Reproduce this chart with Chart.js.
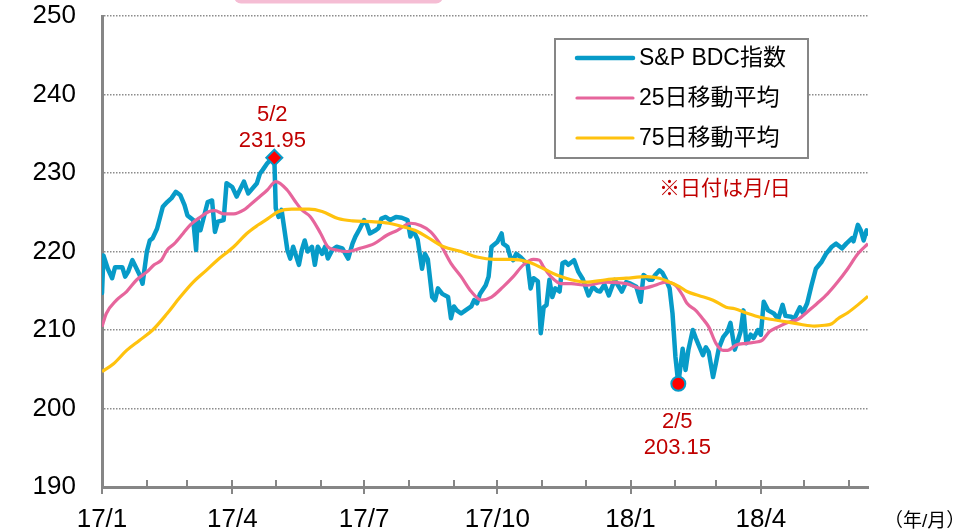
<!DOCTYPE html>
<html lang="ja">
<head>
<meta charset="utf-8">
<title>S&amp;P BDC指数</title>
<script src="https://cdn.jsdelivr.net/npm/chart.js@4.4.1/dist/chart.umd.min.js"></script>
<style>
    html, body { margin: 0; padding: 0; background: #ffffff; }
    #wrap { position: relative; width: 975px; height: 532px; }
</style>
</head>
<body>
<div id="wrap"><canvas id="bdc-chart" width="975" height="532"></canvas></div>
<script>
// S&P BDC index, daily closes (sampled)
const bdcDates = [
    "2017-01-03", "2017-01-04", "2017-01-07", "2017-01-10", "2017-01-12", "2017-01-17", "2017-01-19", "2017-01-21",
    "2017-01-24", "2017-01-29", "2017-01-31", "2017-02-03", "2017-02-05", "2017-02-07", "2017-02-10", "2017-02-14",
    "2017-02-17", "2017-02-20", "2017-02-23", "2017-02-26", "2017-03-01", "2017-03-03", "2017-03-07", "2017-03-09",
    "2017-03-10", "2017-03-12", "2017-03-17", "2017-03-20", "2017-03-22", "2017-03-24", "2017-03-28", "2017-03-30",
    "2017-04-03", "2017-04-06", "2017-04-11", "2017-04-14", "2017-04-20", "2017-04-22", "2017-04-24", "2017-04-27",
    "2017-04-29", "2017-05-02", "2017-05-03", "2017-05-05", "2017-05-07", "2017-05-11", "2017-05-13", "2017-05-15",
    "2017-05-19", "2017-05-21", "2017-05-23", "2017-05-25", "2017-05-28", "2017-05-30", "2017-06-01", "2017-06-04",
    "2017-06-06", "2017-06-08", "2017-06-11", "2017-06-14", "2017-06-18", "2017-06-22", "2017-06-25", "2017-06-27",
    "2017-06-30", "2017-07-03", "2017-07-05", "2017-07-07", "2017-07-11", "2017-07-13", "2017-07-15", "2017-07-18",
    "2017-07-21", "2017-07-25", "2017-07-29", "2017-08-02", "2017-08-04", "2017-08-05", "2017-08-07", "2017-08-09",
    "2017-08-12", "2017-08-14", "2017-08-16", "2017-08-19", "2017-08-21", "2017-08-23", "2017-08-26", "2017-08-30",
    "2017-09-01", "2017-09-03", "2017-09-05", "2017-09-08", "2017-09-11", "2017-09-15", "2017-09-17", "2017-09-19",
    "2017-09-21", "2017-09-25", "2017-09-27", "2017-09-29", "2017-10-03", "2017-10-06", "2017-10-07", "2017-10-10",
    "2017-10-12", "2017-10-14", "2017-10-16", "2017-10-19", "2017-10-21", "2017-10-24", "2017-10-26", "2017-10-28",
    "2017-10-31", "2017-11-02", "2017-11-04", "2017-11-06", "2017-11-08", "2017-11-10", "2017-11-12", "2017-11-15",
    "2017-11-17", "2017-11-19", "2017-11-21", "2017-11-25", "2017-11-28", "2017-12-01", "2017-12-05", "2017-12-08",
    "2017-12-11", "2017-12-13", "2017-12-16", "2017-12-19", "2017-12-23", "2017-12-25", "2017-12-28", "2017-12-31",
    "2018-01-03", "2018-01-07", "2018-01-10", "2018-01-12", "2018-01-16", "2018-01-18", "2018-01-20", "2018-01-23",
    "2018-01-25", "2018-01-27", "2018-01-30", "2018-02-01", "2018-02-03", "2018-02-05", "2018-02-08", "2018-02-10",
    "2018-02-12", "2018-02-15", "2018-02-17", "2018-02-19", "2018-02-22", "2018-02-24", "2018-02-26", "2018-03-01",
    "2018-03-03", "2018-03-05", "2018-03-08", "2018-03-11", "2018-03-13", "2018-03-16", "2018-03-18", "2018-03-20",
    "2018-03-22", "2018-03-24", "2018-03-27", "2018-03-29", "2018-04-01", "2018-04-03", "2018-04-05", "2018-04-08",
    "2018-04-12", "2018-04-15", "2018-04-18", "2018-04-20", "2018-04-24", "2018-04-26", "2018-04-30", "2018-05-02",
    "2018-05-05", "2018-05-08", "2018-05-11", "2018-05-15", "2018-05-18", "2018-05-22", "2018-05-25", "2018-05-29",
    "2018-06-01", "2018-06-05", "2018-06-06", "2018-06-09", "2018-06-11", "2018-06-13", "2018-06-15", "2018-06-16"
];
const bdcValues = [
    214.7, 219.5, 217.8, 216.6, 218.0, 218.0, 216.8, 217.4,
    218.9, 217.0, 215.9, 220.0, 221.4, 221.7, 222.9, 225.7,
    226.3, 226.8, 227.6, 227.2, 225.9, 224.6, 224.0, 220.2,
    224.0, 222.7, 226.3, 226.5, 222.5, 223.8, 224.0, 228.7,
    228.2, 227.0, 228.9, 227.4, 228.7, 229.9, 230.4, 231.2,
    231.6, 231.95, 225.5, 224.4, 225.3, 220.2, 219.1, 220.6,
    218.3, 220.2, 221.4, 220.0, 220.6, 218.3, 220.6, 219.7,
    220.6, 219.1, 220.2, 220.6, 220.4, 219.1, 221.0, 221.9,
    222.9, 224.0, 223.4, 222.3, 222.7, 223.0, 224.2, 224.4,
    224.0, 224.4, 224.3, 224.0, 221.9, 222.5, 222.3, 221.5,
    217.8, 219.7, 219.0, 214.2, 213.8, 215.3, 214.6, 214.2,
    211.5, 213.0, 212.5, 212.1, 212.5, 213.0, 213.8, 213.4,
    214.6, 215.7, 216.8, 220.6, 221.2, 222.3, 221.0, 220.6,
    219.3, 218.9, 219.7, 219.3, 218.9, 218.3, 215.3, 216.6,
    216.2, 209.6, 212.9, 213.2, 216.4, 214.2, 215.3, 214.9,
    218.5, 218.7, 218.3, 218.9, 217.4, 216.5, 214.4, 215.5,
    215.0, 214.9, 215.8, 214.4, 216.4, 215.8, 214.9, 216.1,
    215.9, 215.5, 213.6, 217.0, 216.4, 216.4, 217.0, 217.6,
    217.3, 216.6, 215.3, 212.1, 206.6, 203.15, 207.6, 204.9,
    207.5, 210.0, 209.0, 208.1, 206.8, 207.8, 207.2, 204.0,
    205.8, 207.7, 209.1, 209.8, 210.9, 207.5, 208.6, 209.8,
    212.5, 208.3, 209.4, 209.0, 210.0, 209.4, 213.6, 212.5,
    212.1, 211.4, 213.2, 211.8, 211.7, 211.4, 212.9, 212.2,
    213.4, 215.7, 217.8, 218.7, 219.7, 220.6, 221.0, 220.4,
    221.0, 221.7, 221.3, 223.4, 222.7, 221.4, 222.7, 222.3
];

// 25-day moving average
const ma25Dates = [
    "2017-01-03", "2017-01-06", "2017-01-13", "2017-01-20", "2017-01-27", "2017-02-03", "2017-02-08", "2017-02-13",
    "2017-02-17", "2017-02-22", "2017-02-28", "2017-03-05", "2017-03-12", "2017-03-18", "2017-03-22", "2017-03-28",
    "2017-04-04", "2017-04-11", "2017-04-15", "2017-04-22", "2017-04-27", "2017-05-03", "2017-05-11", "2017-05-16",
    "2017-05-21", "2017-05-27", "2017-06-03", "2017-06-08", "2017-06-14", "2017-06-21", "2017-06-30", "2017-07-10",
    "2017-07-19", "2017-07-26", "2017-08-04", "2017-08-11", "2017-08-18", "2017-08-25", "2017-09-01", "2017-09-08",
    "2017-09-15", "2017-09-22", "2017-09-29", "2017-10-07", "2017-10-14", "2017-10-21", "2017-10-28", "2017-11-01",
    "2017-11-04", "2017-11-09", "2017-11-16", "2017-11-23", "2017-12-03", "2017-12-17", "2017-12-31", "2018-01-11",
    "2018-01-20", "2018-01-27", "2018-02-03", "2018-02-08", "2018-02-11", "2018-02-17", "2018-02-22", "2018-02-26",
    "2018-03-03", "2018-03-08", "2018-03-11", "2018-03-17", "2018-03-24", "2018-04-01", "2018-04-04", "2018-04-09",
    "2018-04-15", "2018-04-22", "2018-04-29", "2018-05-05", "2018-05-12", "2018-05-19", "2018-05-26", "2018-06-02",
    "2018-06-09", "2018-06-16"
];
const ma25Values = [
    210.4, 212.1, 213.8, 214.9, 216.4, 217.4, 218.3, 218.9,
    220.2, 221.0, 222.3, 223.4, 224.4, 225.1, 225.2, 224.8,
    224.8, 225.3, 225.9, 227.0, 227.8, 228.9, 227.8, 226.5,
    225.3, 224.4, 222.3, 220.6, 220.2, 220.0, 220.4, 221.0,
    222.1, 222.7, 223.6, 223.3, 222.5, 220.8, 218.5, 216.8,
    214.9, 213.8, 214.2, 215.5, 216.8, 218.3, 219.0, 218.9,
    218.0, 216.8, 215.9, 215.9, 215.7, 216.1, 215.9, 215.3,
    215.7, 216.1, 215.7, 214.4, 213.4, 212.5, 211.4, 210.4,
    208.3, 207.4, 207.4, 208.1, 208.3, 208.5, 208.7, 209.8,
    210.4, 211.0, 211.4, 212.3, 213.4, 214.6, 216.1, 217.8,
    219.7, 221.0
];

// 75-day moving average
const ma75Dates = [
    "2017-01-03", "2017-01-11", "2017-01-20", "2017-01-29", "2017-02-07", "2017-02-17", "2017-02-26", "2017-03-07",
    "2017-03-16", "2017-03-23", "2017-04-04", "2017-04-13", "2017-04-21", "2017-04-26", "2017-05-05", "2017-05-14",
    "2017-05-26", "2017-06-04", "2017-06-15", "2017-06-25", "2017-07-08", "2017-07-20", "2017-07-31", "2017-08-07",
    "2017-08-15", "2017-08-27", "2017-09-08", "2017-09-19", "2017-10-01", "2017-10-12", "2017-10-24", "2017-11-04",
    "2017-11-13", "2017-11-23", "2017-12-03", "2017-12-17", "2017-12-31", "2018-01-14", "2018-01-23", "2018-01-30",
    "2018-02-06", "2018-02-11", "2018-02-19", "2018-03-01", "2018-03-10", "2018-03-16", "2018-03-25", "2018-04-03",
    "2018-04-12", "2018-04-22", "2018-05-01", "2018-05-10", "2018-05-17", "2018-05-22", "2018-05-26", "2018-06-02",
    "2018-06-09", "2018-06-16"
];
const ma75Values = [
    204.7, 205.7, 207.4, 208.7, 210.0, 212.1, 214.2, 216.1,
    217.6, 218.8, 220.6, 222.3, 223.4, 224.0, 225.1, 225.4,
    225.4, 225.1, 224.2, 223.9, 223.8, 223.6, 223.1, 222.7,
    221.9, 220.6, 220.0, 219.3, 219.0, 219.0, 218.7, 217.8,
    217.0, 216.4, 216.1, 216.4, 216.6, 216.8, 216.6, 216.1,
    215.5, 214.9, 214.4, 213.8, 212.9, 212.7, 212.1, 211.6,
    211.3, 211.0, 210.7, 210.5, 210.6, 210.8, 211.4, 212.2,
    213.2, 214.3
];

// x axis: a tick on the 3rd of every month, labels on quarters
const tickDates = [
    "2017-01-03", "2017-02-03", "2017-03-03", "2017-04-03", "2017-05-03", "2017-06-03",
    "2017-07-03", "2017-08-03", "2017-09-03", "2017-10-03", "2017-11-03", "2017-12-03",
    "2018-01-03", "2018-02-03", "2018-03-03", "2018-04-03", "2018-05-03", "2018-06-03"
];
const tickLabels = [
    "17/1", "", "", "17/4", "", "", "17/7", "", "", "17/10", "", "",
    "18/1", "", "", "18/4", "", ""
];
const yTicks = [190, 200, 210, 220, 230, 240, 250];

const seriesNames = ["S&P BDC指数", "25日移動平均", "75日移動平均"];
const peakDate = "2017-05-02", peakValue = 231.95;
const lowDate = "2018-02-05", lowValue = 203.15;

const BLUE = "#079bc8";
const PINK = "#e6659c";
const YELLOW = "#ffc20e";
const GRAY = "#868686";
const RED_TEXT = "#c00000";
const FONT = "'Liberation Sans', Arial, 'Noto Sans CJK JP', sans-serif";

const DAY_MS = 864e5;
const BASE = Date.UTC(2017, 0, 1);
const toDay = (s) => {
    const [y, m, d] = s.split("-").map(Number);
    return (Date.UTC(y, m - 1, d) - BASE) / DAY_MS;
};
const toPoints = (dates, values) => dates.map((d, i) => ({ x: toDay(d), y: values[i] }));
const shortDate = (s) => {
    const [, m, d] = s.split("-").map(Number);
    return `${m}/${d}`;
};

// month tick marks: short ones inside the plot, quarter ones crossing the axis
const tickMarks = {
    id: "tickMarks",
    afterDraw(chart) {
        const { ctx, chartArea } = chart;
        const x = chart.scales.x;
        ctx.save();
        ctx.strokeStyle = GRAY;
        ctx.lineWidth = 2;
        x.ticks.forEach((t, i) => {
            const px = Math.round(x.getPixelForValue(t.value));
            const major = tickLabels[i] !== "";
            ctx.beginPath();
            ctx.moveTo(px, chartArea.bottom - 7);
            ctx.lineTo(px, chartArea.bottom + (major ? 7 : 0));
            ctx.stroke();
        });
        ctx.restore();
    }
};

// date / value callouts for the high and the low
const callouts = {
    id: "callouts",
    afterDatasetsDraw(chart) {
        const { ctx } = chart;
        const { x, y } = chart.scales;
        ctx.save();
        ctx.fillStyle = RED_TEXT;
        ctx.font = `22px ${FONT}`;
        ctx.textAlign = "center";
        ctx.textBaseline = "middle";

        const hx = x.getPixelForValue(toDay(peakDate)), hy = y.getPixelForValue(peakValue);
        ctx.fillText(shortDate(peakDate), hx - 2, hy - 43);
        ctx.fillText(peakValue.toFixed(2), hx - 2, hy - 17);

        const lx = x.getPixelForValue(toDay(lowDate)), ly = y.getPixelForValue(lowValue);
        ctx.fillText(shortDate(lowDate), lx - 1, ly + 38);
        ctx.fillText(lowValue.toFixed(2), lx - 1, ly + 64);
        ctx.restore();
    }
};

// boxed legend, notes and the pink tab at the top edge
const decorations = {
    id: "decorations",
    afterDraw(chart) {
        const { ctx } = chart;
        ctx.save();

        ctx.fillStyle = "#f5bdd4";
        ctx.beginPath();
        ctx.roundRect(234, -12, 209, 15.5, 7);
        ctx.fill();

        ctx.fillStyle = "#ffffff";
        ctx.fillRect(555, 39, 253, 119);
        ctx.strokeStyle = GRAY;
        ctx.lineWidth = 2;
        ctx.strokeRect(555, 39, 253, 119);

        const colors = [BLUE, PINK, YELLOW];
        const widths = [4.5, 3.2, 3.2];
        ctx.lineCap = "round";
        ctx.font = `23px ${FONT}`;
        ctx.textBaseline = "middle";
        ctx.textAlign = "left";
        seriesNames.forEach((name, i) => {
            const ry = 58 + i * 40;
            ctx.strokeStyle = colors[i];
            ctx.lineWidth = widths[i];
            ctx.beginPath();
            ctx.moveTo(577, ry);
            ctx.lineTo(633, ry);
            ctx.stroke();
            ctx.fillStyle = "#000000";
            ctx.fillText(name, 639, ry + 1);
        });

        ctx.fillStyle = RED_TEXT;
        ctx.font = `21px ${FONT}`;
        ctx.fillText("※日付は月/日", 659, 189);

        ctx.fillStyle = "#000000";
        ctx.font = `19px ${FONT}`;
        ctx.fillText("（年/月）", 884, 522);
        ctx.restore();
    }
};

new Chart(document.getElementById("bdc-chart"), {
    type: "line",
    data: {
        datasets: [
            {
                label: "high",
                data: [{ x: toDay(peakDate), y: peakValue }],
                showLine: false,
                pointStyle: "rectRot",
                pointRadius: 8,
                pointBackgroundColor: "#ff0000",
                pointBorderColor: BLUE,
                pointBorderWidth: 2,
                order: 0
            },
            {
                label: "low",
                data: [{ x: toDay(lowDate), y: lowValue }],
                showLine: false,
                pointStyle: "circle",
                pointRadius: 7,
                pointBackgroundColor: "#ff0000",
                pointBorderColor: BLUE,
                pointBorderWidth: 2,
                order: 1
            },
            {
                label: seriesNames[2],
                data: toPoints(ma75Dates, ma75Values),
                borderColor: YELLOW,
                borderWidth: 3.2,
                pointRadius: 0,
                cubicInterpolationMode: "monotone",
                borderJoinStyle: "round",
                order: 2
            },
            {
                label: seriesNames[1],
                data: toPoints(ma25Dates, ma25Values),
                borderColor: PINK,
                borderWidth: 3.2,
                pointRadius: 0,
                cubicInterpolationMode: "monotone",
                borderJoinStyle: "round",
                order: 3
            },
            {
                label: seriesNames[0],
                data: toPoints(bdcDates, bdcValues),
                borderColor: BLUE,
                borderWidth: 4.5,
                pointRadius: 0,
                tension: 0,
                borderJoinStyle: "round",
                borderCapStyle: "round",
                order: 4
            }
        ]
    },
    options: {
        responsive: false,
        animation: false,
        devicePixelRatio: 1,
        layout: {
            padding: { top: 16, right: 107, left: 0, bottom: 0 }
        },
        plugins: {
            legend: { display: false },
            tooltip: { enabled: false }
        },
        scales: {
            x: {
                type: "linear",
                min: toDay(bdcDates[0]),
                max: toDay(bdcDates[bdcDates.length - 1]),
                afterBuildTicks: (scale) => {
                    scale.ticks = tickDates.map((d) => ({ value: toDay(d) }));
                },
                afterFit: (scale) => {
                    scale.height = 45;
                    scale.paddingLeft = 0;
                    scale.paddingRight = 0;
                },
                ticks: {
                    autoSkip: false,
                    maxRotation: 0,
                    minRotation: 0,
                    padding: 17,
                    color: "#000000",
                    font: { family: FONT, size: 26 },
                    callback: (value, index) => tickLabels[index]
                },
                grid: { display: false, drawTicks: false },
                border: { display: true, color: GRAY, width: 3 }
            },
            y: {
                min: yTicks[0],
                max: yTicks[yTicks.length - 1],
                afterBuildTicks: (scale) => {
                    scale.ticks = yTicks.map((v) => ({ value: v }));
                },
                afterFit: (scale) => {
                    scale.width = 102;
                    scale.paddingTop = 0;
                    scale.paddingBottom = 0;
                },
                ticks: {
                    padding: 26,
                    color: "#000000",
                    font: { family: FONT, size: 26 }
                },
                grid: {
                    drawTicks: false,
                    lineWidth: 1.5,
                    color: (ctx) => (ctx.tick && ctx.tick.value === yTicks[0] ? "rgba(0,0,0,0)" : "#8c8c8c")
                },
                border: { display: true, color: GRAY, width: 3, dash: [1.5, 1.5] }
            }
        }
    },
    plugins: [callouts, tickMarks, decorations]
});
</script>
</body>
</html>
